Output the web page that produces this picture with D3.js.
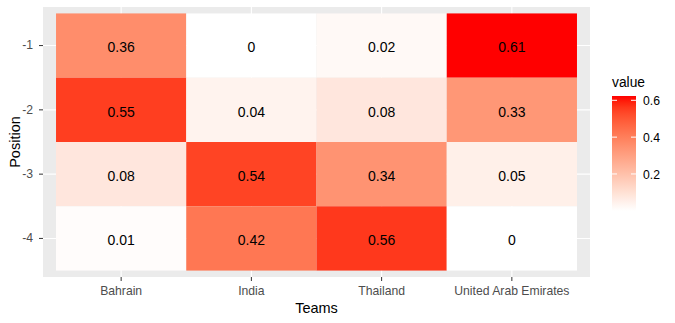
<!DOCTYPE html>
<html>
<head>
<meta charset="utf-8">
<script src="https://cdn.jsdelivr.net/npm/d3@7/dist/d3.min.js"></script>
<style>
  html, body { margin: 0; padding: 0; background: #fff; }
  svg { display: block; font-family: "Liberation Sans", Arial, sans-serif; }
</style>
</head>
<body>
<svg id="chart" width="675" height="323"></svg>
<script>
// Teams along the x axis, positions along the y axis (top to bottom)
const teams = ["Bahrain", "India", "Thailand", "United Arab Emirates"];
const positions = ["-1", "-2", "-3", "-4"];

// Share of each team at each position, one array per team (ordered as positions)
const bahrain  = [0.36, 0.55, 0.08, 0.01];
const india    = [0.00, 0.04, 0.54, 0.42];
const thailand = [0.02, 0.08, 0.34, 0.56];
const uae      = [0.61, 0.33, 0.05, 0.00];

const legendTicks = [0.2, 0.4, 0.6];

const seriesByTeam = [bahrain, india, thailand, uae];
const cells = [];
teams.forEach((t, i) => {
  positions.forEach((p, j) => cells.push({ team: t, pos: p, value: seriesByTeam[i][j] }));
});

const svg = d3.select("#chart");

// Panel geometry
const panel = { left: 43, right: 590, top: 7, bottom: 277 };

// Discrete band scales with a 0.1-unit outer margin around the tiles
const x = d3.scaleBand().domain(teams)
  .range([panel.left, panel.right]).paddingInner(0).paddingOuter(0.1);
const y = d3.scaleBand().domain(positions)
  .range([panel.top, panel.bottom]).paddingInner(0).paddingOuter(0.1);

const vmin = d3.min(cells, d => d.value), vmax = d3.max(cells, d => d.value);
const color = d3.scaleLinear().domain([vmin, vmax]).range(["#FFFFFF", "#FF0000"])
  .interpolate(d3.interpolateLab);

// Panel background
svg.append("rect")
  .attr("x", panel.left).attr("y", panel.top)
  .attr("width", panel.right - panel.left).attr("height", panel.bottom - panel.top)
  .attr("fill", "#EBEBEB");

// Major grid lines
const grid = svg.append("g").attr("stroke", "#FFFFFF").attr("stroke-width", 1.1);
teams.forEach(t => {
  const cx = x(t) + x.bandwidth() / 2;
  grid.append("line").attr("x1", cx).attr("x2", cx).attr("y1", panel.top).attr("y2", panel.bottom);
});
positions.forEach(p => {
  const cy = y(p) + y.bandwidth() / 2;
  grid.append("line").attr("x1", panel.left).attr("x2", panel.right).attr("y1", cy).attr("y2", cy);
});

// Tiles
svg.append("g").selectAll("rect").data(cells).join("rect")
  .attr("x", d => x(d.team)).attr("y", d => y(d.pos))
  .attr("width", x.bandwidth()).attr("height", y.bandwidth())
  .attr("fill", d => color(d.value));

// Value labels
svg.append("g").selectAll("text").data(cells).join("text")
  .attr("x", d => x(d.team) + x.bandwidth() / 2)
  .attr("y", d => y(d.pos) + y.bandwidth() / 2)
  .attr("dy", "0.48em")
  .attr("text-anchor", "middle")
  .attr("font-size", 14)
  .attr("fill", "#000")
  .text(d => d3.format("")(d.value));

// Axes
const xAxis = svg.append("g").attr("transform", `translate(0,${panel.bottom})`)
  .call(d3.axisBottom(x).tickSize(4).tickPadding(5));
const yAxis = svg.append("g").attr("transform", `translate(${panel.left},0)`)
  .call(d3.axisLeft(y).tickSize(4).tickPadding(6));
[xAxis, yAxis].forEach(a => {
  a.select(".domain").remove();
  a.selectAll(".tick line").attr("stroke", "#333333").attr("stroke-width", 1);
  a.selectAll(".tick text").attr("fill", "#4D4D4D").attr("font-size", 12.2)
    .attr("font-family", "Liberation Sans, Arial, sans-serif");
});

// Axis titles
svg.append("text").attr("x", (panel.left + panel.right) / 2).attr("y", 313)
  .attr("text-anchor", "middle").attr("font-size", 14.5).attr("fill", "#000").text("Teams");
svg.append("text")
  .attr("transform", `translate(20,${(panel.top + panel.bottom) / 2}) rotate(-90)`)
  .attr("text-anchor", "middle").attr("font-size", 14.5).attr("fill", "#000").text("Position");

// Colour bar legend
const bar = { x: 612, w: 24, top: 96, bottom: 211 };
const ly = d3.scaleLinear().domain([0, 0.6]).range([210.8, 100.3]);
const defs = svg.append("defs");
const grad = defs.append("linearGradient").attr("id", "valgrad")
  .attr("x1", 0).attr("y1", 1).attr("x2", 0).attr("y2", 0);
d3.range(0, 21).forEach(i => {
  const yy = bar.bottom - (bar.bottom - bar.top) * i / 20;
  const v = Math.max(vmin, Math.min(vmax, ly.invert(yy)));
  grad.append("stop").attr("offset", `${i * 5}%`).attr("stop-color", color(v));
});
svg.append("rect").attr("x", bar.x).attr("y", bar.top)
  .attr("width", bar.w).attr("height", bar.bottom - bar.top)
  .attr("fill", "url(#valgrad)");
const lg = svg.append("g");
legendTicks.forEach(t => {
  const ty = ly(t);
  lg.append("line").attr("x1", bar.x).attr("x2", bar.x + 5).attr("y1", ty).attr("y2", ty)
    .attr("stroke", "#fff").attr("stroke-width", 1);
  lg.append("line").attr("x1", bar.x + bar.w - 5).attr("x2", bar.x + bar.w).attr("y1", ty).attr("y2", ty)
    .attr("stroke", "#fff").attr("stroke-width", 1);
  lg.append("text").attr("x", bar.x + bar.w + 7).attr("y", ty).attr("dy", "0.4em")
    .attr("font-size", 12.2).attr("fill", "#000").text(d3.format(".1f")(t));
});
svg.append("text").attr("x", bar.x).attr("y", 87).attr("font-size", 13.8)
  .attr("fill", "#000").text("value");
</script>
</body>
</html>
